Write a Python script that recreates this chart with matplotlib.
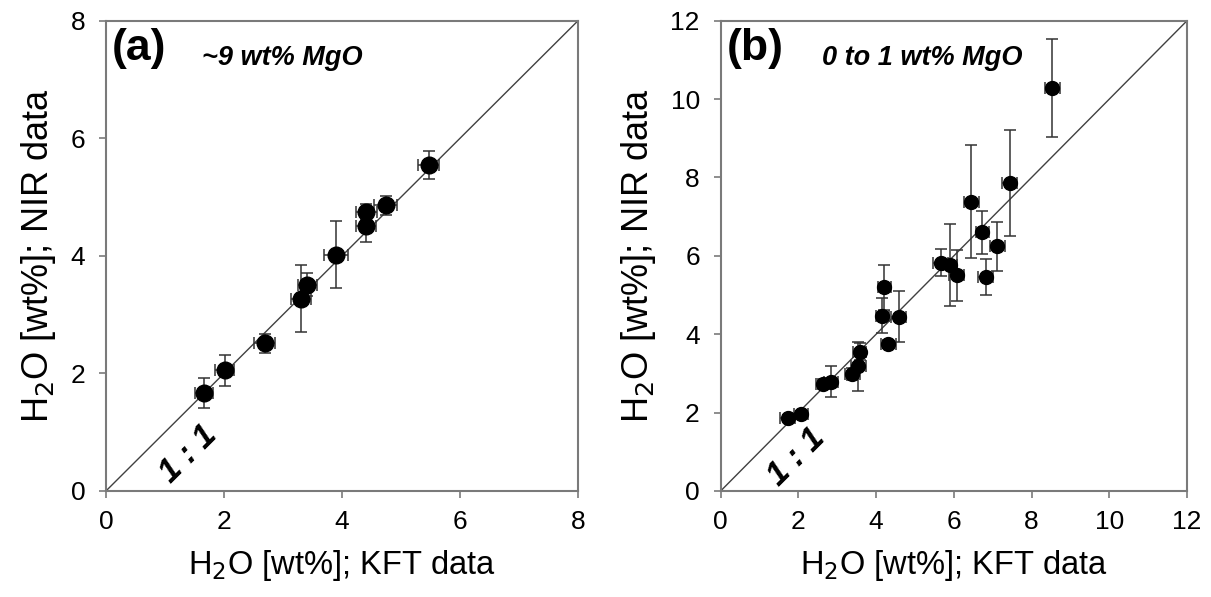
import matplotlib
matplotlib.use("Agg")
import matplotlib.pyplot as plt
import numpy as np

plt.rcParams['font.family'] = ['Liberation Sans', 'DejaVu Sans']

# panel (a): ~9 wt% MgO
kft_a = [1.66, 2.01, 2.69, 3.31, 3.41, 3.90, 4.40, 4.41, 4.74, 5.47]
nir_a = [1.67, 2.05, 2.51, 3.27, 3.51, 4.02, 4.50, 4.75, 4.86, 5.55]
kft_err_a = [0.15, 0.16, 0.18, 0.17, 0.16, 0.20, 0.17, 0.18, 0.19, 0.18]
nir_err_a = [0.25, 0.26, 0.16, 0.57, 0.20, 0.57, 0.27, 0.14, 0.16, 0.24]

# panel (b): 0 to 1 wt% MgO
kft_b = [1.72, 2.07, 2.64, 2.84, 3.39, 3.54, 3.58, 4.31, 4.16, 4.21,
         4.58, 5.66, 5.90, 6.07, 6.45, 6.73, 6.82, 7.12, 7.44, 8.53]
nir_b = [1.87, 1.96, 2.73, 2.79, 2.99, 3.18, 3.55, 3.76, 4.47, 5.20,
         4.45, 5.83, 5.76, 5.50, 7.38, 6.60, 5.46, 6.24, 7.85, 10.28]
kft_err_b = [0.19, 0.19, 0.19, 0.19, 0.19, 0.19, 0.17, 0.19, 0.17, 0.17,
             0.19, 0.19, 0.19, 0.19, 0.19, 0.17, 0.19, 0.19, 0.19, 0.19]
nir_err_b = [0.08, 0.08, 0.12, 0.39, 0.15, 0.62, 0.22, 0.10, 0.45, 0.57,
             0.66, 0.34, 1.04, 0.66, 1.44, 0.55, 0.47, 0.63, 1.35, 1.26]

frame_col = '#7a7a7a'

fig = plt.figure(figsize=(12.11, 5.97), dpi=100)
ax_a = fig.add_axes([0.0875, 0.1776, 0.3898, 0.7877])
ax_b = fig.add_axes([0.5951, 0.1776, 0.3851, 0.7877])


def style_panel(ax, lim, tag, note, note_x, one_xy):
    ax.plot([0, lim], [0, lim], color='#404040', lw=1.0, zorder=1)
    ax.set_xlim(0, lim)
    ax.set_ylim(0, lim)
    ax.set_xticks(np.arange(0, lim + 0.1, 2))
    ax.set_yticks(np.arange(0, lim + 0.1, 2))
    for s in ax.spines.values():
        s.set_color(frame_col)
        s.set_linewidth(1.5)
    ax.tick_params(direction='out', length=5, width=1.2, color=frame_col,
                   labelsize=19)
    ax.tick_params(axis='x', pad=9)
    ax.tick_params(axis='y', pad=10)
    ax.set_xlabel('H$_2$O [wt%]; KFT data', fontsize=23.5, labelpad=10)
    ax.set_ylabel('H$_2$O [wt%]; NIR data', fontsize=26, labelpad=9)
    ax.text(0.012, 0.985, tag, transform=ax.transAxes, fontsize=32,
            fontweight='bold', va='top', ha='left')
    ax.text(note_x, 0.905, note, transform=ax.transAxes, fontsize=19.5,
            fontweight='bold', style='italic', va='baseline', ha='left')
    ax.text(one_xy[0], one_xy[1], '1 : 1', fontsize=24, fontweight='bold',
            style='italic', rotation=45, ha='center', va='center')


ax_a.errorbar(kft_a, nir_a, xerr=kft_err_a, yerr=nir_err_a, fmt='o',
              color='black', ms=12, ecolor='#333333', elinewidth=1.1,
              capsize=4.5, capthick=1.1, zorder=3)
style_panel(ax_a, 8, '(a)', '~9 wt% MgO', 0.203, (1.4, 0.63))

ax_b.errorbar(kft_b, nir_b, xerr=kft_err_b, yerr=nir_err_b, fmt='o',
              color='black', ms=10, ecolor='#333333', elinewidth=1.1,
              capsize=4.5, capthick=1.1, zorder=3)
style_panel(ax_b, 12, '(b)', '0 to 1 wt% MgO', 0.217, (1.95, 0.85))

fig.savefig('out.png', dpi=100)
